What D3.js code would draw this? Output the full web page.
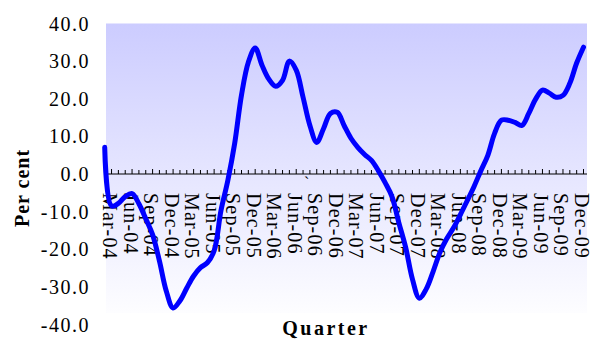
<!DOCTYPE html>
<html><head><meta charset="utf-8">
<script src="https://cdn.jsdelivr.net/npm/d3@7"></script>
<style>body{margin:0;background:#fff}svg{display:block}</style>
</head><body><svg id="c" width="592" height="339"></svg>
<script>
const months = ["Feb-04","Mar-04","Apr-04","May-04","Jun-04","Jul-04","Aug-04","Sep-04","Oct-04","Nov-04","Dec-04",
"Jan-05","Feb-05","Mar-05","Apr-05","May-05","Jun-05","Jul-05","Aug-05","Sep-05","Oct-05","Nov-05","Dec-05",
"Jan-06","Feb-06","Mar-06","Apr-06","May-06","Jun-06","Jul-06","Aug-06","Sep-06","Oct-06","Nov-06","Dec-06",
"Jan-07","Feb-07","Mar-07","Apr-07","May-07","Jun-07","Jul-07","Aug-07","Sep-07","Oct-07","Nov-07","Dec-07",
"Jan-08","Feb-08","Mar-08","Apr-08","May-08","Jun-08","Jul-08","Aug-08","Sep-08","Oct-08","Nov-08","Dec-08",
"Jan-09","Feb-09","Mar-09","Apr-09","May-09","Jun-09","Jul-09","Aug-09","Sep-09","Oct-09","Nov-09","Dec-09"];
const values = [7.1,-8.5,-7.8,-6.0,-5.2,-7.9,-11.9,-16.1,-23.1,-31.1,-35.6,
-33.7,-30.3,-27.1,-24.9,-23.6,-20.4,-9.7,-1.7,8.1,21.0,29.7,33.5,
28.9,25.2,23.3,24.9,30.0,27.6,20.4,12.9,8.4,12.1,16.1,16.4,
12.9,9.5,7.1,5.2,3.6,0.9,-2.3,-6.0,-12.9,-19.5,-28.0,-33.0,
-30.6,-26.0,-20.9,-17.2,-14.3,-10.8,-7.1,-3.3,0.9,4.9,10.8,14.3,
14.3,13.7,12.9,16.1,19.9,22.3,21.5,20.4,20.9,24.1,29.5,33.7];
const quarterLabels = ["Mar-04","Jun-04","Sep-04","Dec-04","Mar-05","Jun-05","Sep-05","Dec-05",
"Mar-06","Jun-06","Sep-06","Dec-06","Mar-07","Jun-07","Sep-07","Dec-07",
"Mar-08","Jun-08","Sep-08","Dec-08","Mar-09","Jun-09","Sep-09","Dec-09"];
const yTicks = [40,30,20,10,0,-10,-20,-30,-40];
const yTitle = "Per cent", xTitle = "Quarter";

const svg = d3.select("#c");
const plot = {left:106, right:587, top:23.5, bottom:313};
const x = d3.scalePoint().domain(months).range([104.7, 583.5]);
const y = d3.scaleLinear().domain([-40,40]).range([324.5, 23.5]);

const defs = svg.append("defs");
const g = defs.append("linearGradient").attr("id","bg").attr("x1",0).attr("y1",0).attr("x2",0).attr("y2",1);
g.append("stop").attr("offset","0%").attr("stop-color","#ccccff");
g.append("stop").attr("offset","100%").attr("stop-color","#fdfdff");
svg.append("rect").attr("x",plot.left).attr("y",plot.top).attr("width",plot.right-plot.left)
  .attr("height",plot.bottom-plot.top).attr("fill","url(#bg)");

// x axis at zero with upward ticks
const ax = svg.append("g").attr("transform",`translate(0,${y(0)})`);
ax.append("line").attr("x1",plot.left).attr("x2",plot.right).attr("stroke","#000").attr("stroke-width",1.2);
ax.selectAll("line.t").data(months.slice(1)).join("line").attr("class","t")
  .attr("x1",d=>x(d)).attr("x2",d=>x(d)).attr("y1",0).attr("y2",(d,i)=> i%3===0? -5 : -4)
  .attr("stroke","#000").attr("stroke-width",1);

// x labels
svg.append("g").selectAll("text").data(quarterLabels).join("text")
  .attr("transform",d=>`translate(${x(d)-1.5},193) rotate(90)`)
  .attr("dominant-baseline","central")
  .attr("font-family","Liberation Serif, Times New Roman, serif").attr("font-size",20)
  .attr("letter-spacing",1.2).attr("fill","#000").text(d=>d);
svg.append("text").attr("x",x("Sep-06")-10).attr("y",188).attr("text-anchor","middle")
  .attr("font-family","Liberation Serif, serif").attr("font-size",16).text("`");

// y labels
svg.append("g").selectAll("text").data(yTicks).join("text")
  .attr("x",90).attr("y",d=>y(d)).attr("text-anchor","end").attr("dominant-baseline","central")
  .attr("font-family","Liberation Serif, Times New Roman, serif").attr("font-size",20)
  .attr("letter-spacing",1.5).attr("fill","#000").text(d=>d.toFixed(1));

// titles
svg.append("text").attr("transform","translate(22,188) rotate(-90)").attr("text-anchor","middle")
  .attr("dominant-baseline","central").attr("font-family","Liberation Serif, serif").attr("font-weight","bold")
  .attr("font-size",20).attr("letter-spacing",1).text(yTitle);
svg.append("text").attr("x",326).attr("y",335).attr("text-anchor","middle")
  .attr("font-family","Liberation Serif, serif").attr("font-weight","bold")
  .attr("font-size",20).attr("letter-spacing",2.5).text(xTitle);

// line
const line = d3.line().x((d,i)=>x(months[i])).y(d=>y(d)).curve(d3.curveCatmullRom.alpha(0.5));
svg.append("path").datum(values).attr("d",line).attr("fill","none").attr("stroke","#0000ff")
  .attr("stroke-width",5).attr("stroke-linejoin","round").attr("stroke-linecap","round");
</script></body></html>
